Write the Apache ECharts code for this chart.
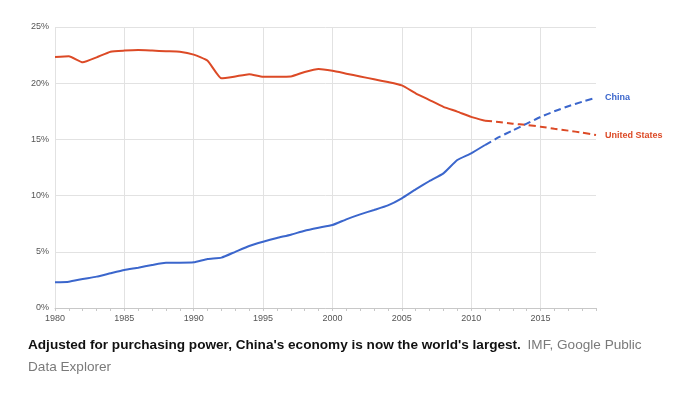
<!DOCTYPE html>
<html><head><meta charset="utf-8">
<script src="https://cdn.jsdelivr.net/npm/echarts@6/dist/echarts.min.js"></script>
<style>html,body{margin:0;padding:0;background:#fff}#c{width:696px;height:394px}</style>
</head><body><div id="c"></div>
<script>
const years = [];
for (let y = 1980; y <= 2019; y++) years.push(String(y));
const lastActualIndex = 31; // 2011
const chinaShare = [2.28,2.34,2.58,2.79,3.09,3.38,3.59,3.83,4.03,4.03,4.06,4.36,4.48,5.0,5.52,5.9,6.23,6.52,6.88,7.14,7.38,7.89,8.33,8.72,9.13,9.76,10.56,11.3,11.98,13.17,13.76,14.5,15.2,15.8,16.4,17.0,17.5,17.95,18.35,18.7];
const usShare = [22.33,22.4,21.86,22.3,22.8,22.9,22.95,22.9,22.84,22.8,22.54,22.0,20.43,20.6,20.8,20.58,20.58,20.6,21.0,21.26,21.1,20.85,20.6,20.35,20.1,19.8,19.1,18.5,17.9,17.47,17.0,16.66,16.55,16.4,16.28,16.13,15.95,15.78,15.6,15.39];
const yTicks = [0,5,10,15,20,25];
const seriesNames = ['China','United States'];
const captionBold = "Adjusted for purchasing power, China's economy is now the world's largest.";
const captionSource1 = "IMF, Google Public";
const captionSource2 = "Data Explorer";

const blue = '#3b66cc', red = '#dc4a26';
const solid = arr => arr.map((v,i) => i <= lastActualIndex ? v : null);
const dashed = arr => arr.map((v,i) => i >= lastActualIndex ? v : null);

const chart = echarts.init(document.getElementById('c'), null, {renderer:'canvas'});
function mk(name, data, color, isDash) {
  return {
    name, type:'line', data, symbol:'none', smooth:0.15, connectNulls:false,
    lineStyle:{color, width:2, type: isDash ? [7,4] : 'solid'},
    itemStyle:{color},
    endLabel: isDash ? {show:true, formatter:name, color, fontWeight:'bold', fontSize:9, distance:9, fontFamily:'Liberation Sans, Arial, sans-serif'} : {show:false},
    emphasis:{disabled:true}, animation:false
  };
}
chart.setOption({
  animation:false,
  grid:{left:55, right:100, top:27, bottom:86, containLabel:false},
  xAxis:{
    type:'category', data:years, boundaryGap:false,
    axisLine:{show:true, lineStyle:{color:'#c8c8c8', width:1}},
    axisTick:{show:true, interval:0, length:3, lineStyle:{color:'#c8c8c8'}},
    axisLabel:{interval:4, color:'#555', fontSize:9, margin:6, fontFamily:'Liberation Sans, Arial, sans-serif'},
    splitLine:{show:true, interval:4, lineStyle:{color:'#e2e2e2', width:1}}
  },
  yAxis:{
    type:'value', min:0, max:25, interval:5,
    axisLine:{show:false}, axisTick:{show:false},
    axisLabel:{formatter:v => yTicks.includes(v) ? v + '%' : '', color:'#555', fontSize:9, margin:6, fontFamily:'Liberation Sans, Arial, sans-serif'},
    splitLine:{lineStyle:{color:'#e2e2e2', width:1}}
  },
  series:[
    mk(seriesNames[1], solid(usShare), red, false),
    mk(seriesNames[1], dashed(usShare), red, true),
    mk(seriesNames[0], solid(chinaShare), blue, false),
    mk(seriesNames[0], dashed(chinaShare), blue, true)
  ],
  graphic:[{
    type:'text', left:28, top:338,
    style:{
      text:'{b|' + captionBold + '}  {g|' + captionSource1 + '}\n{g|' + captionSource2 + '}',
      rich:{
        b:{fontWeight:'bold', fontSize:13.6, fill:'#111', fontFamily:'Liberation Sans, sans-serif', lineHeight:22},
        g:{fontSize:13.6, fill:'#7a7a7a', fontFamily:'Liberation Sans, sans-serif', lineHeight:22}
      }
    }
  }]
});
</script></body></html>
